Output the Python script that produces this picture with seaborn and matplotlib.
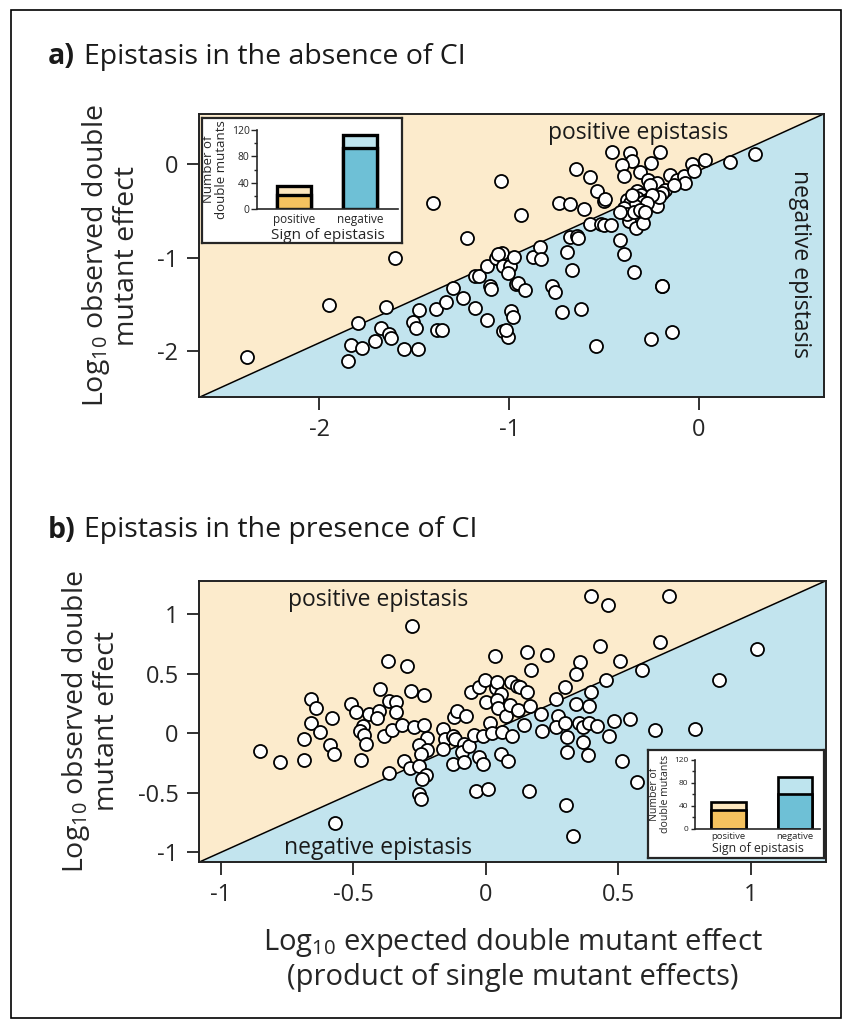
import matplotlib
matplotlib.use("Agg")
import matplotlib.pyplot as plt
import seaborn as sns
import pandas as pd
from matplotlib.patches import Rectangle

# panel a: epistasis without CI (log10 expected vs observed)
a_x = [-1.042, -1.401, -1.220, -1.601, -1.947, -2.380, -1.798, -1.650, -1.833, -1.777,
       -1.847, -1.705, -1.676, -1.631, -1.622, -1.553, -1.483, -1.508, -1.490, -1.474,
       -1.388, -1.381, -1.352, -1.334, -1.297, -1.244, -1.179, -1.116, -1.179, -1.158,
       -1.100, -1.097, -1.118, -1.069, -1.039, -1.060, -1.035, -1.035, -1.009, -1.017,
       -0.940, -0.995, -0.974, -1.007, -0.963, -0.954, -0.919, -0.989, -0.981, -0.877,
       -0.837, -0.833, -0.772, -0.759, -0.722, -0.622, -0.541, -0.693, -0.670, -0.678,
       -0.643, -0.640, -0.740, -0.680, -0.605, -0.573, -0.517, -0.501, -0.462, -0.540,
       -0.503, -0.497, -0.573, -0.650, -0.457, -0.366, -0.353, -0.406, -0.397, -0.309,
       -0.251, -0.204, -0.271, -0.221, -0.260, -0.155, -0.116, -0.077, -0.072, -0.037,
       -0.028, 0.030, 0.161, 0.297, -0.415, -0.397, -0.345, -0.195, -0.193, -0.253,
       -0.142, -0.367, -0.332, -0.295, -0.221, -0.178, -0.195, -0.213, -0.134, -0.327,
       -0.304, -0.327, -0.274, -0.248, -0.295, -0.274, -0.380, -0.362, -0.336, -0.397,
       -0.380, -0.345, -0.309, -0.283, -0.415, -0.353]
a_y = [-0.18, -0.42, -0.79, -1.00, -1.51, -2.07, -1.70, -1.53, -1.94, -1.97,
       -2.11, -1.90, -1.76, -1.82, -1.86, -1.98, -1.98, -1.69, -1.76, -1.56,
       -1.55, -1.78, -1.78, -1.48, -1.33, -1.43, -1.54, -1.67, -1.20, -1.20,
       -1.31, -1.34, -1.09, -1.00, -0.95, -0.96, -1.09, -1.79, -1.85, -1.78,
       -0.54, -1.09, -0.99, -1.17, -1.28, -1.27, -1.35, -1.57, -1.64, -0.99,
       -0.89, -1.02, -1.31, -1.37, -1.58, -1.55, -1.95, -0.94, -1.13, -0.78,
       -0.77, -0.79, -0.41, -0.43, -0.48, -0.64, -0.64, -0.65, -0.65, -0.29,
       -0.39, -0.37, -0.14, -0.05, 0.13, 0.12, 0.04, -0.01, -0.13, -0.08,
       0.01, 0.13, -0.17, -0.20, -0.22, -0.11, -0.17, -0.13, -0.20, 0.00,
       -0.07, 0.05, 0.02, 0.11, -0.81, -0.96, -1.15, -1.31, -1.31, -1.87,
       -1.80, -0.61, -0.68, -0.63, -0.45, -0.28, -0.31, -0.35, -0.22, -0.29,
       -0.33, -0.36, -0.38, -0.33, -0.40, -0.42, -0.38, -0.42, -0.45, -0.47,
       -0.53, -0.51, -0.49, -0.51, -0.51, -0.33]

# panel b: epistasis with CI
b_x = [-0.279, -0.371, -0.298, 0.035, -0.399, -0.282, -0.234, -0.364, -0.338, -0.341,
       -0.659, -0.643, -0.511, -0.492, -0.582, -0.659, -0.625, -0.686, -0.853, -0.777,
       -0.686, -0.587, -0.572, -0.441, -0.402, -0.412, -0.463, -0.477, -0.460, -0.452,
       -0.472, -0.383, -0.355, -0.316, -0.273, -0.234, -0.221, -0.254, -0.221, -0.247,
       -0.311, -0.285, -0.254, -0.228, -0.241, -0.365, -0.251, -0.247, -0.569, -0.162,
       -0.155, -0.163, -0.125, -0.124, -0.121, -0.111, -0.077, -0.117, -0.081, -0.090,
       -0.081, -0.064, -0.047, -0.027, -0.010, -0.037, 0.009, -0.056, -0.027, -0.005,
       -0.001, 0.016, -0.010, 0.024, 0.037, 0.043, 0.056, 0.040, 0.047, 0.075,
       0.093, 0.091, 0.062, 0.100, 0.056, 0.082, 0.119, 0.121,
       0.398, 0.460, 0.691, 0.431, 0.657, 0.155, 0.229, 0.169, 0.355, 0.340,
       0.504, 0.588, 1.023, 0.879, 0.453, 0.297, 0.396, 0.129, 0.153, 0.266,
       0.340, 0.388, 0.167, 0.207, 0.272, 0.144, 0.211, 0.266, 0.297, 0.352,
       0.367, 0.390, 0.419, 0.485, 0.542, 0.636, 0.789, 0.304, 0.365, 0.463,
       0.306, 0.384, 0.514, 0.569, 0.163, 0.302, 0.330]
b_y = [0.90, 0.61, 0.57, 0.65, 0.37, 0.36, 0.32, 0.27, 0.26, 0.18,
       0.29, 0.21, 0.25, 0.18, 0.13, 0.09, 0.01, -0.05, -0.15, -0.24,
       -0.22, -0.10, -0.17, 0.16, 0.19, 0.13, 0.06, 0.02, -0.01, -0.09,
       -0.22, -0.02, 0.03, 0.07, 0.05, 0.07, -0.04, -0.10, -0.14, -0.17,
       -0.23, -0.29, -0.27, -0.35, -0.38, -0.33, -0.51, -0.55, -0.75, 0.04,
       -0.05, -0.13, -0.02, -0.26, 0.14, 0.19, 0.15, -0.05, -0.09, -0.16,
       -0.24, -0.11, -0.01, -0.20, -0.26, -0.48, -0.47, 0.35, 0.39, 0.45,
       0.26, 0.09, -0.02, 0.00, 0.38, 0.43, 0.33, 0.28, 0.21, 0.15,
       0.43, 0.24, 0.01, -0.02, -0.17, -0.23, 0.40, 0.20,
       1.15, 1.08, 1.15, 0.73, 0.77, 0.68, 0.66, 0.53, 0.60, 0.50,
       0.61, 0.53, 0.71, 0.45, 0.45, 0.39, 0.35, 0.39, 0.35, 0.29,
       0.25, 0.23, 0.23, 0.16, 0.15, 0.07, 0.02, 0.05, 0.09, 0.09,
       0.05, 0.09, 0.06, 0.10, 0.12, 0.03, 0.04, -0.03, -0.07, -0.02,
       -0.16, -0.18, -0.23, -0.41, -0.48, -0.60, -0.86]

# inset bar counts (lower = darker part, total = whole bar)
signs = ["positive", "negative"]
a_lower = [22, 93]
a_total = [35, 112]
b_lower = [32, 60]
b_total = [47, 90]

BEIGE = "#FCEBCC"
BLUE = "#C2E4EE"
dark = {"positive": "#F5C25F", "negative": "#6EC0D6"}
light = {"positive": "#FCE6BE", "negative": "#BEE4EE"}

sns.set_style("ticks")
plt.rcParams["font.family"] = ["Open Sans", "DejaVu Sans"]
plt.rcParams["mathtext.fontset"] = "custom"
plt.rcParams["mathtext.rm"] = "Open Sans"
plt.rcParams["axes.unicode_minus"] = False
plt.rcParams["text.color"] = "#1a1a1a"

fig = plt.figure(figsize=(8.51, 10.28), dpi=100)
fig.patches.append(Rectangle((0.013, 0.010), 0.975, 0.980, transform=fig.transFigure,
                             fill=False, edgecolor="black", lw=1.2))


def scatter_panel(rect, x, y, xlim, ylim, ticks_x, labels_x, ticks_y, labels_y):
    ax = fig.add_axes(rect)
    ax.fill_between(xlim, ylim, ylim[1], color=BEIGE, lw=0, zorder=0)
    ax.fill_between(xlim, ylim[0], ylim, color=BLUE, lw=0, zorder=0)
    ax.plot(xlim, ylim, color="black", lw=1.1, zorder=1)
    sns.scatterplot(x=x, y=y, s=88, color="white", edgecolor="black", linewidth=1.3,
                    ax=ax, zorder=3)
    ax.set_xlim(xlim)
    ax.set_ylim(ylim)
    ax.set_xticks(ticks_x, labels_x)
    ax.set_yticks(ticks_y, labels_y)
    ax.tick_params(length=9, width=1.3, labelsize=17, pad=6, color="#222222")
    for sp in ax.spines.values():
        sp.set_linewidth(1.4)
        sp.set_color("#222222")
    ax.set_ylabel("Log$_{10}$ observed double\nmutant effect", fontsize=20.5, labelpad=12,
                  linespacing=1.05)
    return ax


def inset(box_rect, bar_rect, lower, total, xlim, k=1.0):
    # k scales the inset's fonts and line widths
    box = fig.add_axes(box_rect)
    box.set_xticks([])
    box.set_yticks([])
    box.set_facecolor("white")
    for sp in box.spines.values():
        sp.set_linewidth(1.6)
    ax = fig.add_axes(bar_rect)
    ax.set_facecolor("none")
    df = pd.DataFrame({"sign": signs, "total": total, "lower": lower})
    sns.barplot(data=df, x="sign", y="total", hue="sign", palette=light, width=0.52,
                saturation=1, edgecolor="black", linewidth=2.4 * k, legend=False, ax=ax)
    sns.barplot(data=df, x="sign", y="lower", hue="sign", palette=dark, width=0.52,
                saturation=1, edgecolor="black", linewidth=2.4 * k, legend=False, ax=ax)
    ax.set_xlim(xlim)
    ax.set_ylim(0, 120)
    ax.set_yticks([0, 40, 80, 120])
    ax.set_yticks([20, 60, 100], minor=True)
    ax.tick_params(axis="y", which="major", length=4 * k, width=1, labelsize=7.5 * k,
                   pad=1.5)
    ax.tick_params(axis="y", which="minor", length=2.5 * k, width=1)
    ax.tick_params(axis="x", length=0, labelsize=8.5 * k, pad=3 * k)
    sns.despine(ax=ax)
    ax.spines["left"].set_linewidth(1.2)
    ax.spines["bottom"].set_linewidth(1.2)
    ax.set_xlabel("Sign of epistasis", fontsize=11 * k, labelpad=1)
    ax.set_ylabel("Number of\ndouble mutants", fontsize=9.5 * k, labelpad=3 * k,
                  linespacing=0.95)


# ---- panel a
ax_a = scatter_panel([0.2342, 0.6135, 0.7335, 0.2756], a_x, a_y,
                     (-2.633, 0.656), (-2.50, 0.54),
                     [-2, -1, 0], ["-2", "-1", "0"], [0, -1, -2], ["0", "-1", "-2"])
ax_a.text(0.703, 0.975, "positive epistasis", transform=ax_a.transAxes, ha="center",
          va="top", fontsize=16.5)
ax_a.text(0.963, 0.47, "negative epistasis", transform=ax_a.transAxes, ha="center",
          va="center", rotation=270, fontsize=16.5)
inset([0.2374, 0.7636, 0.2350, 0.1216], [0.3023, 0.7967, 0.1657, 0.0768],
      a_lower, a_total, (-0.556, 1.574))

fig.text(0.056, 0.945, "a)", fontsize=20.5, fontweight="bold", va="center")
fig.text(0.099, 0.945, "Epistasis in the absence of CI", fontsize=20.5, va="center")

# ---- panel b
ax_b = scatter_panel([0.2344, 0.1615, 0.7362, 0.2736], b_x, b_y,
                     (-1.081, 1.283), (-1.08, 1.282),
                     [-1, -0.5, 0, 0.5, 1], ["-1", "-0.5", "0", "0.5", "1"],
                     [-1, -0.5, 0, 0.5, 1], ["-1", "-0.5", "0", "0.5", "1"])
ax_b.text(0.285, 0.975, "positive epistasis", transform=ax_b.transAxes, ha="center",
          va="top", fontsize=16.5)
ax_b.text(0.285, 0.008, "negative epistasis", transform=ax_b.transAxes, ha="center",
          va="bottom", fontsize=16.5)
ax_b.set_xlabel("Log$_{10}$ expected double mutant effect\n(product of single mutant effects)",
                fontsize=21, labelpad=14, linespacing=1.15)
inset([0.7614, 0.1650, 0.2063, 0.1054], [0.8167, 0.1939, 0.1469, 0.0671],
      b_lower, b_total, (-0.498, 1.374), k=0.8)

fig.text(0.056, 0.484, "b)", fontsize=20.5, fontweight="bold", va="center")
fig.text(0.099, 0.484, "Epistasis in the presence of CI", fontsize=20.5, va="center")

fig.savefig("out.png", dpi=100)
